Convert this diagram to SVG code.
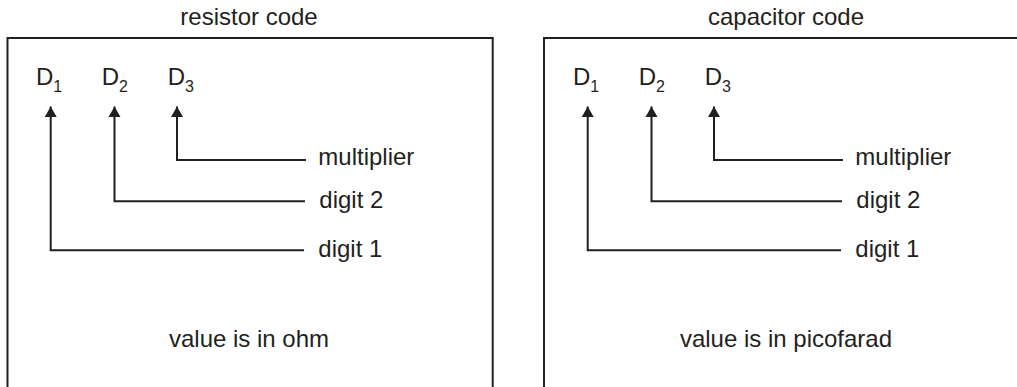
<svg xmlns="http://www.w3.org/2000/svg" width="1017" height="387" viewBox="0 0 1017 387">
<style>
text{font-family:"Liberation Sans",Arial,sans-serif;fill:#231f20;font-size:24px}
.sub{font-size:16px}
.mid{text-anchor:middle}
.frame,.conn{fill:none;stroke:#231f20;stroke-width:2}
</style>
<defs>
<marker id="ah" markerUnits="userSpaceOnUse" markerWidth="11" markerHeight="12" refX="10.5" refY="6" viewBox="0 0 11 12" orient="auto-start-reverse" overflow="visible">
<path d="M0,0 L10.5,6 L0,12 Z" fill="#231f20"/>
</marker>
</defs>
<g id="resistor-panel">
<text class="mid" x="249" y="25">resistor code</text>
<path class="frame" d="M7.5,390 V38 H492.7 V390"/>
<text x="36" y="85">D<tspan class="sub" dy="6.7">1</tspan></text>
<text x="101.7" y="85">D<tspan class="sub" dy="6.7">2</tspan></text>
<text x="167.7" y="85">D<tspan class="sub" dy="6.7">3</tspan></text>
<text x="318.3" y="165">multiplier</text>
<text x="319.3" y="208">digit 2</text>
<text x="318.3" y="256.7">digit 1</text>
<text class="mid" x="249" y="346.7">value is in ohm</text>
</g>
<g id="capacitor-panel">
<text class="mid" x="786" y="25">capacitor code</text>
<path class="frame" d="M544,390 V38 H1020"/>
<text x="573" y="85">D<tspan class="sub" dy="6.7">1</tspan></text>
<text x="638.7" y="85">D<tspan class="sub" dy="6.7">2</tspan></text>
<text x="704.7" y="85">D<tspan class="sub" dy="6.7">3</tspan></text>
<text x="855.3" y="165">multiplier</text>
<text x="856.3" y="208">digit 2</text>
<text x="855.3" y="256.7">digit 1</text>
<text class="mid" x="786" y="346.7">value is in picofarad</text>
</g>
<g id="connectors">
<path class="conn" marker-start="url(#ah)" d="M50.7,106.5 V250.3 H304"/>
<path class="conn" marker-start="url(#ah)" d="M114.5,106.5 V201.2 H305"/>
<path class="conn" marker-start="url(#ah)" d="M177,106.5 V160 H306"/>
<path class="conn" marker-start="url(#ah)" d="M587.7,106.5 V250.3 H841"/>
<path class="conn" marker-start="url(#ah)" d="M651.5,106.5 V201.2 H842"/>
<path class="conn" marker-start="url(#ah)" d="M714,106.5 V160 H843"/>
</g>
</svg>
